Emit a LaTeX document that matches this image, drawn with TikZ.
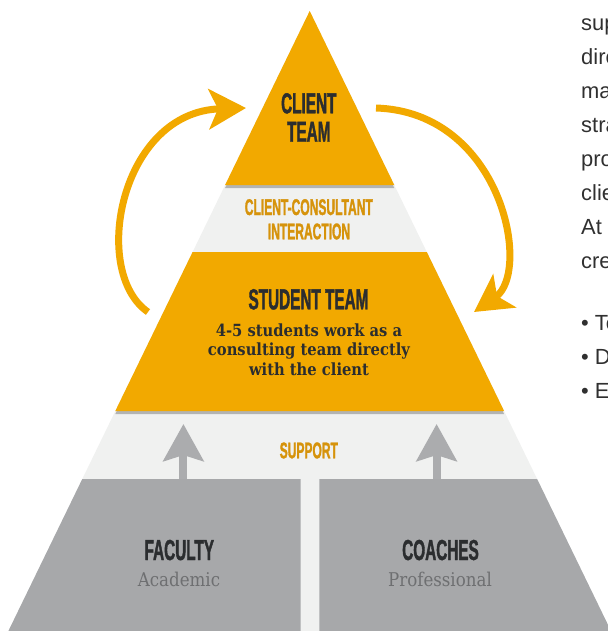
\documentclass[tikz,border=0pt]{standalone}
\usepackage{fontspec}
\setmainfont{Liberation Sans}
\newfontfamily\headfont[FakeStretch=0.53,FakeBold=1.3,UprightFont={* Bold}]{Liberation Sans}
\newfontfamily\slabfont[FakeStretch=0.88]{DejaVu Serif}
\usetikzlibrary{arrows.meta}

\definecolor{gold}{HTML}{F2A900}
\definecolor{darkgold}{HTML}{D6930B}
\definecolor{mist}{HTML}{F0F1F0}
\definecolor{stone}{HTML}{A7A8AA}
\definecolor{arrowgrey}{HTML}{ABACAE}
\definecolor{ink}{HTML}{2B2D2F}
\definecolor{softink}{HTML}{6E6F71}
\definecolor{bodyink}{HTML}{303030}

\tikzstyle{goldtier} = [fill=gold]
\tikzstyle{misttier} = [fill=mist]
\tikzstyle{stonetier} = [fill=stone]
\tikzstyle{dropshade} = [fill=black, opacity=0.25, yshift=-3bp]
\tikzstyle{headline} = [anchor=base, inner sep=0pt, text=ink, font=\headfont\fontsize{29}{29}\selectfont]
\tikzstyle{bandlabel} = [anchor=base, inner sep=0pt, text=darkgold, font=\headfont\fontsize{22.8}{22.8}\selectfont]
\tikzstyle{blurb} = [anchor=base, inner sep=0pt, text=ink, font=\slabfont\bfseries\fontsize{16.8}{16.8}\selectfont]
\tikzstyle{subline} = [anchor=base, inner sep=0pt, text=softink, font=\slabfont\fontsize{19}{19}\selectfont]
\tikzstyle{sidetext} = [anchor=base west, inner sep=0pt, text=bodyink, font=\fontsize{22}{22}\selectfont]
\tikzstyle{looparrow} = [draw=gold, line width=7bp, -{Stealth[length=37bp,width=40bp,inset=9bp]}]
\tikzstyle{liftarrow} = [draw=arrowgrey, line width=8bp, -{Stealth[length=37bp,width=40bp,inset=6bp]}]

\begin{document}
\begin{tikzpicture}[x=1bp, y=-1bp]
          \useasboundingbox (0,0) rectangle (608,631);
          \clip (0,0) rectangle (608,631);

          %% Pyramid tiers
          \fill [misttier]  (309.7,11) -- (611,631) -- (8.4,631) -- cycle; %
          \fill [dropshade] (309.7,11) -- (394.3,185) -- (225.1,185) -- cycle; %
          \fill [goldtier]  (309.7,11) -- (394.3,185) -- (225.1,185) -- cycle; %
          \fill [dropshade] (192.6,252) -- (426.8,252) -- (504.1,411) -- (115.3,411) -- cycle; %
          \fill [goldtier]  (192.6,252) -- (426.8,252) -- (504.1,411) -- (115.3,411) -- cycle; %
          \fill [stonetier] (82.3,479) -- (300.7,479) -- (300.7,631) -- (8.4,631) -- cycle; %
          \fill [stonetier] (319.3,479) -- (537.1,479) -- (611,631) -- (319.3,631) -- cycle; %

          %% Labels
          \node (clientA)      [headline]  at (308.8,113.3) {CLIENT}; %
          \node (clientB)      [headline]  at (308.8,141.7) {TEAM}; %
          \node (interA)       [bandlabel] at (308.8,215)   {CLIENT-CONSULTANT}; %
          \node (interB)       [bandlabel] at (309,239.3)   {INTERACTION}; %
          \node (student)      [headline]  at (308.5,309.3) {STUDENT TEAM}; %
          \node (blurbA)       [blurb]     at (309,336)     {4-5 students work as a}; %
          \node (blurbB)       [blurb]     at (309,355.5)   {consulting team directly}; %
          \node (blurbC)       [blurb]     at (309,375)     {with the client}; %
          \node (support)      [bandlabel] at (308.8,458.3) {SUPPORT}; %
          \node (faculty)      [headline]  at (179.3,560)   {FACULTY}; %
          \node (academic)     [subline]   at (179,586.5)   {Academic}; %
          \node (coaches)      [headline]  at (440.5,560)   {COACHES}; %
          \node (professional) [subline]   at (440,586.5)   {Professional}; %

          %% Side text, cut at the edge
          \node (sideA) [sidetext] at (581,30.2)  {sup}; %
          \node (sideB) [sidetext] at (581,64.3)  {dire}; %
          \node (sideC) [sidetext] at (581,98.4)  {ma}; %
          \node (sideD) [sidetext] at (581,132.5) {stra}; %
          \node (sideE) [sidetext] at (581,166.6) {pro}; %
          \node (sideF) [sidetext] at (581,200.7) {clie}; %
          \node (sideG) [sidetext] at (581,234.8) {At t}; %
          \node (sideH) [sidetext] at (581,268.9) {cre}; %
          \node (sideI) [sidetext] at (581,330)   {• Te}; %
          \node (sideJ) [sidetext] at (581,364)   {• Da}; %
          \node (sideK) [sidetext] at (581,398)   {• Ex}; %

          %% Connections
          \coordinate (loopfrom)    at (148,312);
          \coordinate (loopto)      at (246,108);
          \coordinate (returnfrom)  at (376,108);
          \coordinate (returnto)    at (474,312);
          \coordinate (facultyfoot) at (183.4,479);
          \coordinate (facultytip)  at (183.4,424);
          \coordinate (coachesfoot) at (436.6,479);
          \coordinate (coachestip)  at (436.6,424);
          \draw [looparrow] (loopfrom) .. controls (90,272) and (120,112) .. (loopto); %
          \draw [looparrow] (returnfrom) .. controls (502,112) and (532,272) .. (returnto); %
          \draw [liftarrow] (facultyfoot) -- (facultytip); %
          \draw [liftarrow] (coachesfoot) -- (coachestip); %
\end{tikzpicture}
\end{document}
